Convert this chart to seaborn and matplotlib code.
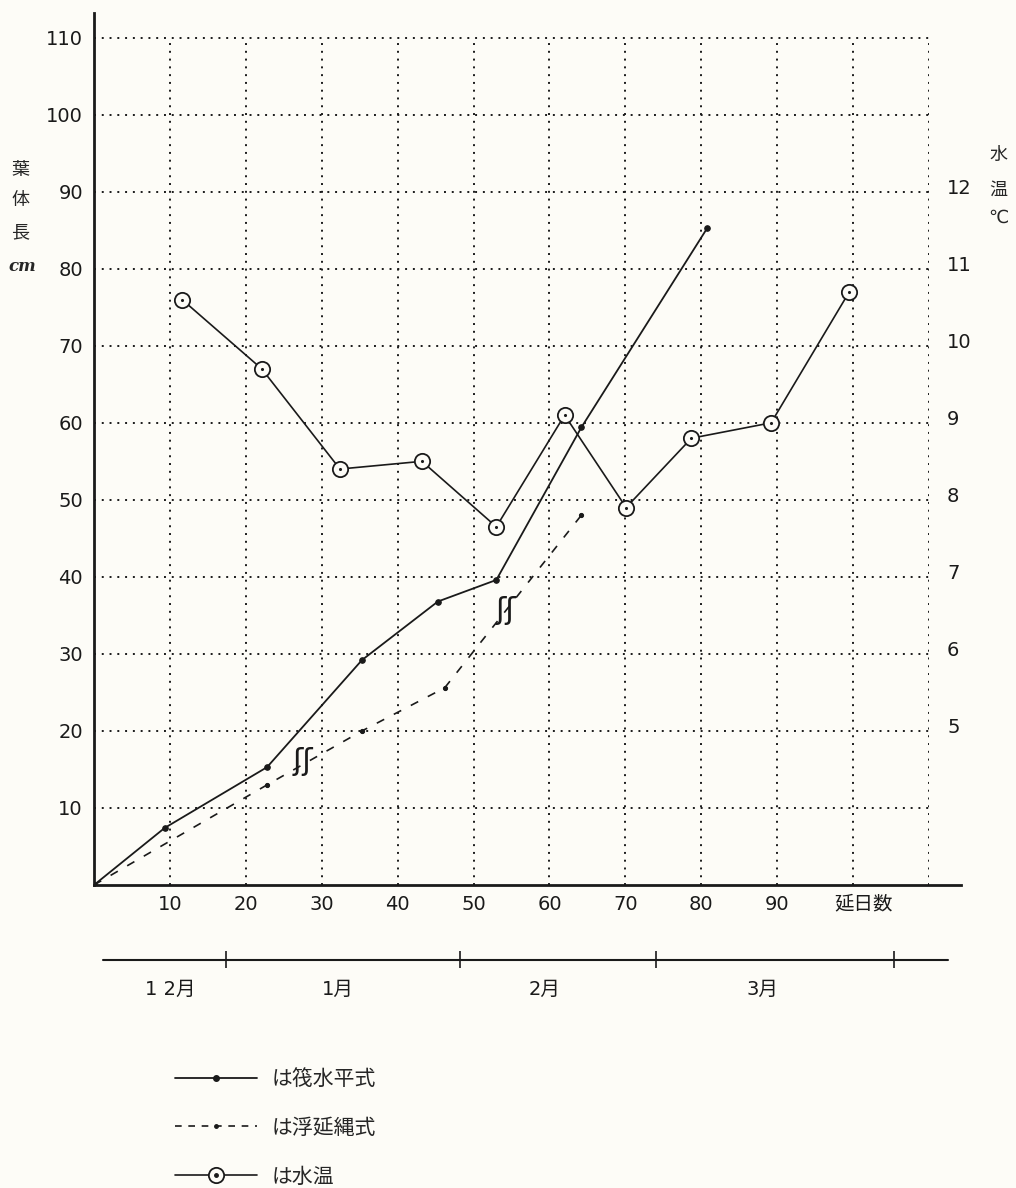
"""
Leaf length growth (raft vs floating longline) and water temperature.
"""
import numpy as np
import matplotlib
matplotlib.use('Agg')
import matplotlib.pyplot as plt
import matplotlib.transforms as mtransforms
from matplotlib.lines import Line2D
import seaborn as sns

# 筏水平式 (solid line)
raft_days = [0, 9.3, 22.8, 35.3, 45.3, 53.0, 64.2, 80.8]
raft_cm = [0, 7.4, 15.3, 29.2, 36.8, 39.6, 59.4, 85.3]

# 浮延縄式 (dashed line)
rope_days = [0, 22.8, 35.3, 46.2, 64.2]
rope_cm = [0, 13.0, 20.0, 25.6, 48.0]

# 水温 (circles, right axis)
temp_days = [11.6, 22.1, 32.4, 43.2, 53.0, 62.0, 70.1, 78.7, 89.2, 99.5]
temp_c = [10.6, 9.7, 8.4, 8.5, 7.65, 9.1, 7.9, 8.8, 9.0, 10.7]

day_ticks = [10, 20, 30, 40, 50, 60, 70, 80, 90]
day_labels = ['10', '20', '30', '40', '50', '60', '70', '80', '90']
cm_ticks = [10, 20, 30, 40, 50, 60, 70, 80, 90, 100, 110]
temp_ticks = [5, 6, 7, 8, 9, 10, 11, 12]

month_labels = ['1 2月', '1月', '2月', '3月']
month_label_days = [10, 32.1, 59.4, 88]
month_edges = [17.4, 48.2, 74.0, 105.4]

legend_labels = ['は筏水平式', 'は浮延縄式', 'は水温']

bg = '#fdfcf7'
sns.set_theme(style='white')
plt.rcParams['font.family'] = ['DejaVu Sans', 'Noto Sans CJK JP']

fig = plt.figure(figsize=(10.16, 11.88), dpi=100, facecolor=bg)
W, H = 1016, 1188
ax = fig.add_axes([94 / W, 1 - 885 / H, 835 / W, 872 / H])
ax.set_facecolor(bg)
ax.set_xlim(0, 110)
ax.set_ylim(0, 113.2)

# dotted grid box 0-110 x 0-110
dot = (0, (1, 3))
grid_pos = np.arange(10, 111, 10)
ax.hlines(grid_pos, 0, 110, colors='k', linestyles=dot, linewidth=1.4)
ax.vlines(grid_pos, 0, 110, colors='k', linestyles=dot, linewidth=1.4)

# growth lines
sns.lineplot(x=raft_days, y=raft_cm, ax=ax, color='k', lw=1.3, marker='o',
             markersize=4, markeredgecolor='k', sort=False, estimator=None)
sns.lineplot(x=rope_days, y=rope_cm, ax=ax, color='k', lw=1.2,
             linestyle=(0, (5, 6.5)), marker='o', markersize=3,
             markeredgecolor='k', sort=False, estimator=None)

# break marks
for d, c in [(27.5, 16.0), (54.2, 35.6)]:
    ax.text(d, c, 'ʃʃ', fontsize=22, ha='center', va='center', color='k')

# water temperature on twin axis
ax2 = ax.twinx()
ax2.set_ylim(3, 3 + 11.32)
sns.lineplot(x=temp_days, y=temp_c, ax=ax2, color='k', lw=1.2, marker='o',
             markersize=11, markerfacecolor=bg, markeredgecolor='k',
             markeredgewidth=1.3, sort=False, estimator=None)
sns.scatterplot(x=temp_days, y=temp_c, ax=ax2, s=5, color='k', linewidth=0,
                zorder=5)

# spines / ticks
for s in ['top', 'right']:
    ax.spines[s].set_visible(False)
for s in ax2.spines.values():
    s.set_visible(False)
ax.spines['left'].set_linewidth(2)
ax.spines['left'].set_color('k')
ax.spines['bottom'].set_linewidth(2)
ax.spines['bottom'].set_color('k')
ax.spines['bottom'].set_bounds(0, 114.2)

ax.set_xticks(day_ticks + [101.4])
ax.set_xticklabels(day_labels + ['延日数'])
ax.get_xticklabels()[-1].set_fontsize(15)
ax.set_yticks(cm_ticks)
ax.set_yticklabels([str(v) for v in cm_ticks])
ax.tick_params(axis='x', length=0, pad=7, labelsize=14, colors='k')
ax.tick_params(axis='y', length=0, pad=8, labelsize=14, colors='k')
ax2.set_yticks(temp_ticks)
ax2.set_yticklabels([str(v) for v in temp_ticks])
ax2.tick_params(axis='y', length=0, pad=13, labelsize=14, colors='k')
up = mtransforms.ScaledTranslation(0, 5 / 100, fig.dpi_scale_trans)
for lab in ax2.get_yticklabels():
    lab.set_transform(lab.get_transform() + up)
ax.set_xlabel('')
ax.set_ylabel('')
ax2.set_ylabel('')

# axis titles (vertical)
for ch, y in zip(['葉', '体', '長'], [170, 200, 232]):
    fig.text(20 / W, 1 - y / H, ch, fontsize=13, ha='center', va='center')
fig.text(22 / W, 1 - 267 / H, 'cm', fontsize=12, ha='center', va='center',
         style='italic', weight='bold', family='DejaVu Serif')
for ch, y in zip(['水', '温', '℃'], [155, 190, 218]):
    fig.text(998 / W, 1 - y / H, ch, fontsize=13, ha='center', va='center')

# month bar below the axis
ax.plot([1.2, 112.5], [-9.74, -9.74], color='k', lw=1.5, clip_on=False)
ax.vlines(month_edges, -10.8, -8.6, colors='k', lw=1.2, clip_on=False)
for lab, d in zip(month_labels, month_label_days):
    ax.text(d, -13.6, lab, fontsize=14, ha='center', va='center', color='k')

# legend
h1 = Line2D([], [], color='k', lw=1.3, marker='o', markersize=4)
h2 = Line2D([], [], color='k', lw=1.2, linestyle=(0, (4, 4)), marker='o',
            markersize=2.5)
h3 = (Line2D([], [], color='k', lw=1.2, marker='o', markersize=11,
             markerfacecolor=bg, markeredgecolor='k', markeredgewidth=1.3),
      Line2D([], [], linestyle='', marker='o', markersize=2.5, color='k'))
fig.legend([h1, h2, h3], legend_labels, loc='upper left',
           bbox_to_anchor=(175 / W, 1 - 1069 / H), frameon=False,
           borderpad=0, borderaxespad=0, handlelength=3.94,
           handletextpad=0.72, labelspacing=1.38, fontsize=15)

fig.savefig('out.png', dpi=100, facecolor=bg)
